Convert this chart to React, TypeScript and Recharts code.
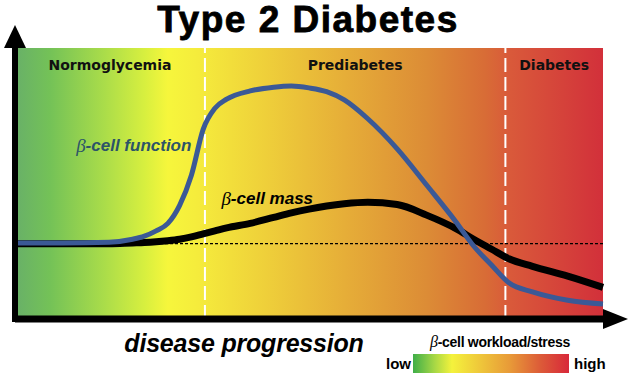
import React from 'react'
import {
  LineChart,
  Line,
  XAxis,
  YAxis,
  ReferenceArea,
  ReferenceLine,
  ReferenceDot,
} from 'recharts'

// disease progression (0 = healthy, 100 = late diabetes)
const progress = [0, 8, 16, 20, 22, 24, 26, 28, 30, 32, 34, 36, 40, 44, 47, 50, 53, 56, 60, 65, 70, 75, 78, 81, 84, 88, 94, 100]
// relative to normal level (1.0)
const betaFunction = [1.01, 1.01, 1.02, 1.06, 1.1, 1.17, 1.27, 1.51, 1.91, 2.52, 2.8, 2.92, 3.03, 3.08, 3.095, 3.07, 3.02, 2.91, 2.66, 2.26, 1.78, 1.29, 0.97, 0.72, 0.48, 0.36, 0.25, 0.2]
const betaMass = [1.0, 1.0, 1.0, 1.01, 1.015, 1.025, 1.04, 1.06, 1.09, 1.13, 1.17, 1.21, 1.27, 1.35, 1.41, 1.46, 1.5, 1.53, 1.55, 1.52, 1.38, 1.2, 1.06, 0.93, 0.8, 0.7, 0.57, 0.42]

const stages = ['Normoglycemia', 'Prediabetes', 'Diabetes']
const stageBounds = [0, 32.3, 83.4, 100]
const normalLevel = 1
const yMax = 3.6

const data = progress.map((x, i) => ({ x, fn: betaFunction[i], mass: betaMass[i] }))

const SANS = '"Liberation Sans", Arial, sans-serif'

const curveLabel = (text: string, color: string, size: number) => (p: any) => (
  <text
    x={p.cx}
    y={p.cy}
    textAnchor="middle"
    dominantBaseline="central"
    fill={color}
    fontSize={size}
    fontWeight="bold"
    fontStyle="italic"
    fontFamily={SANS}
  >
    <tspan fontFamily='"Liberation Serif", serif' fontWeight="normal" fontSize={size + 2}>β</tspan>
    <tspan>{text}</tspan>
  </text>
)

export default function App() {
  return (
    <div style={{ position: 'absolute', left: 0, top: 0, width: 640, height: 378, background: '#fff' }}>
      <div
        style={{
          position: 'absolute',
          left: 0,
          width: 616,
          top: 0,
          textAlign: 'center',
          fontFamily: SANS,
          fontWeight: 'bold',
          fontSize: 37,
          letterSpacing: 1.5,
          lineHeight: '40px',
          WebkitTextStroke: '0.8px #000',
        }}
      >
        Type 2 Diabetes
      </div>

      <LineChart
        width={640}
        height={378}
        data={data}
        margin={{ top: 48, right: 37, left: 0, bottom: 58 }}
        style={{ position: 'absolute', left: 0, top: 0 }}
      >
        <defs>
          <linearGradient id="bg" x1="0" y1="0" x2="1" y2="0">
            <stop offset="0" stopColor="#68b068" />
            <stop offset="0.06" stopColor="#74c257" />
            <stop offset="0.15" stopColor="#a9dc4a" />
            <stop offset="0.22" stopColor="#d7ef3f" />
            <stop offset="0.26" stopColor="#f6f63c" />
            <stop offset="0.31" stopColor="#f5ec3c" />
            <stop offset="0.42" stopColor="#efd13a" />
            <stop offset="0.56" stopColor="#e6ae38" />
            <stop offset="0.7" stopColor="#dc8c36" />
            <stop offset="0.8" stopColor="#d86c36" />
            <stop offset="0.84" stopColor="#d95a3a" />
            <stop offset="1" stopColor="#d2303a" />
          </linearGradient>
          <marker id="arrowX" markerUnits="userSpaceOnUse" markerWidth="26" markerHeight="20" refX="0" refY="10" orient="auto">
            <path d="M0,0 L25,10 L0,20 z" fill="#000" />
          </marker>
          <marker id="arrowY" markerUnits="userSpaceOnUse" markerWidth="24" markerHeight="22" refX="0" refY="11" orient="auto-start-reverse">
            <path d="M0,0 L23,11 L0,22 z" fill="#000" />
          </marker>
        </defs>

        <XAxis
          dataKey="x"
          type="number"
          domain={[0, 100]}
          height={1}
          tick={false}
          tickLine={false}
          axisLine={{ stroke: '#000', strokeWidth: 7, markerEnd: 'url(#arrowX)' }}
        />
        <YAxis
          type="number"
          domain={[0, yMax]}
          width={15}
          tick={false}
          tickLine={false}
          axisLine={{ stroke: '#000', strokeWidth: 6, strokeLinecap: 'square', markerStart: 'url(#arrowY)' }}
        />

        <ReferenceArea x1={0} x2={100} y1={0} y2={yMax} fill="url(#bg)" fillOpacity={1} stroke="none" />

        {stages.map((name, i) => (
          <ReferenceArea
            key={name}
            x1={stageBounds[i]}
            x2={stageBounds[i + 1]}
            y1={0}
            y2={yMax}
            fill="none"
            stroke="none"
            label={{
              value: name,
              position: 'insideTop',
              offset: 12,
              fill: '#111',
              fontSize: 14,
              fontWeight: 'bold',
              fontFamily: '"DejaVu Sans", sans-serif',
            }}
          />
        ))}

        {stageBounds.slice(1, -1).map((b) => (
          <ReferenceLine key={b} x={b} stroke="#fff" strokeWidth={2} strokeDasharray="14 5" />
        ))}
        <ReferenceLine y={normalLevel} stroke="#000" strokeWidth={1.2} strokeDasharray="3 2" />

        <Line type="monotone" dataKey="mass" stroke="#000" strokeWidth={7} dot={false} isAnimationActive={false} />
        <Line type="monotone" dataKey="fn" stroke="#3b5996" strokeWidth={5} dot={false} isAnimationActive={false} />

        <ReferenceDot x={20.2} y={2.31} r={0} shape={curveLabel('-cell function', '#2d5468', 17)} />
        <ReferenceDot x={42.9} y={1.61} r={0} shape={curveLabel('-cell mass', '#000', 17)} />
      </LineChart>

      <div
        style={{
          position: 'absolute',
          left: 100,
          width: 288,
          top: 329,
          textAlign: 'center',
          fontFamily: SANS,
          fontWeight: 'bold',
          fontStyle: 'italic',
          fontSize: 25,
          lineHeight: '28px',
          letterSpacing: -0.2,
        }}
      >
        disease progression
      </div>

      <div
        style={{
          position: 'absolute',
          left: 420,
          width: 160,
          top: 334,
          textAlign: 'center',
          fontFamily: '"Liberation Sans Narrow", "Liberation Sans", sans-serif',
          fontWeight: 'bold',
          fontSize: 14,
          lineHeight: '16px',
          letterSpacing: -0.3,
        }}
      >
        <span style={{ fontFamily: '"Liberation Serif", serif', fontStyle: 'italic', fontWeight: 'normal', fontSize: 16 }}>β</span>-cell workload/stress
      </div>
      <div
        style={{
          position: 'absolute',
          left: 386,
          top: 355,
          fontFamily: '"Liberation Sans Narrow", "Liberation Sans", sans-serif',
          fontWeight: 'bold',
          fontSize: 15,
          lineHeight: '18px',
        }}
      >
        low
      </div>
      <div
        style={{
          position: 'absolute',
          left: 413,
          top: 354,
          width: 156,
          height: 19,
          background: 'linear-gradient(to right, #3fae49 0%, #a8d845 14%, #f4f23c 25%, #eec23a 45%, #e89a38 62%, #dc5a38 82%, #d8283a 100%)',
        }}
      />
      <div
        style={{
          position: 'absolute',
          left: 574,
          top: 355,
          fontFamily: '"Liberation Sans Narrow", "Liberation Sans", sans-serif',
          fontWeight: 'bold',
          fontSize: 15,
          lineHeight: '18px',
        }}
      >
        high
      </div>
    </div>
  )
}
